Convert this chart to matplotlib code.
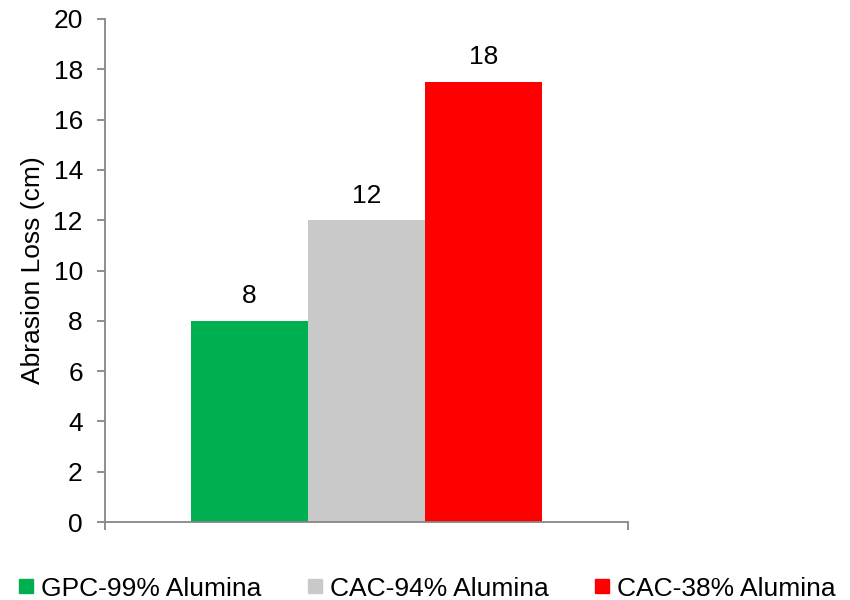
import matplotlib
matplotlib.use("Agg")
import matplotlib.pyplot as plt
from matplotlib.lines import Line2D

plt.rcParams['font.family'] = ['Liberation Sans', 'DejaVu Sans']

series = ["GPC-99% Alumina", "CAC-94% Alumina", "CAC-38% Alumina"]
values = [8, 12, 17.5]
labels = ["8", "12", "18"]
colors = ["#00B050", "#C9C9C9", "#FF0000"]
y_ticks = [0, 2, 4, 6, 8, 10, 12, 14, 16, 18, 20]

FS = 19
fig = plt.figure(figsize=(8.5, 6), dpi=100)
ax = fig.add_axes([105 / 850, 1 - 522 / 600, 523 / 850, 503 / 600])

w = 117 / 523
for i, (v, c, lab) in enumerate(zip(values, colors, labels)):
    x = 0.5 + (i - 1) * w
    ax.bar(x, v, width=w, color=c, align='center')
    ax.annotate(lab, (x, v), xytext=(0, 9), textcoords='offset points',
                ha='center', va='bottom', fontsize=FS)

ax.set_xlim(0, 1)
ax.set_ylim(0, 20)
ax.set_yticks(y_ticks)
ax.set_xticks([0, 1])
ax.set_xticklabels([])
ax.tick_params(axis='y', labelsize=FS, length=6, color='#868686', width=1.3, pad=10)
ax.tick_params(axis='x', length=6, color='#868686', width=1.3)
for s in ['top', 'right']:
    ax.spines[s].set_visible(False)
for s in ['left', 'bottom']:
    ax.spines[s].set_color('#868686')
    ax.spines[s].set_linewidth(1.3)
ax.set_ylabel("Abrasion Loss (cm)", fontsize=FS, labelpad=6)

handles = [Line2D([0], [0], marker='s', color='none', markerfacecolor=c,
                  markeredgecolor=c, markersize=10) for c in colors]
fig.legend(handles, series, loc='center', bbox_to_anchor=(0.503, 0.019), ncol=3,
           frameon=False, fontsize=FS, handlelength=0.5, handletextpad=0.3,
           columnspacing=1.8)

fig.savefig("out.png", dpi=100)
